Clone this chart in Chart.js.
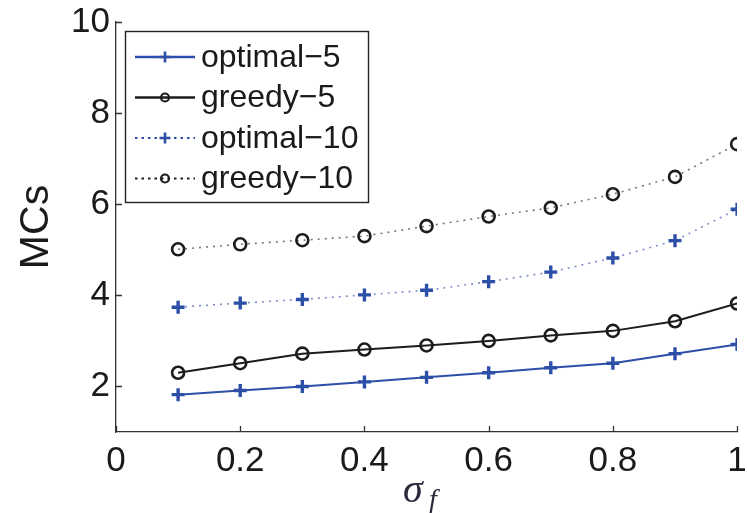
<!DOCTYPE html>
<html>
<head>
<meta charset="utf-8">
<script src="https://cdn.jsdelivr.net/npm/chart.js@4/dist/chart.umd.min.js"></script>
<style>
html,body{margin:0;padding:0;background:#fff;}
#wrap{width:747px;height:513px;position:relative;}
</style>
</head>
<body>
<div id="wrap"><canvas id="c" width="747" height="513"></canvas></div>
<script>
const xValues = [0.1, 0.2, 0.3, 0.4, 0.5, 0.6, 0.7, 0.8, 0.9, 1.0];
const optimal5 = [1.82, 1.91, 2.0, 2.1, 2.2, 2.3, 2.41, 2.51, 2.72, 2.92];
const greedy5 = [2.3, 2.51, 2.72, 2.81, 2.9, 3.0, 3.12, 3.22, 3.43, 3.82];
const optimal10 = [3.74, 3.83, 3.91, 4.01, 4.11, 4.3, 4.51, 4.82, 5.2, 5.89];
const greedy10 = [5.01, 5.12, 5.21, 5.3, 5.52, 5.73, 5.92, 6.22, 6.6, 7.32];
const seriesNames = ['optimal\u22125', 'greedy\u22125', 'optimal\u221210', 'greedy\u221210'];
const xTickValues = [0, 0.2, 0.4, 0.6, 0.8, 1];
const xTickLabels = ['0', '0.2', '0.4', '0.6', '0.8', '1'];
const yTickValues = [2, 4, 6, 8, 10];
const yTickLabels = ['2', '4', '6', '8', '10'];
const yTitle = 'MCs';

const BLUE = '#2d4fa8';
const BLACK = '#1c1c1c';
const SANS = '"Liberation Sans", Arial, Helvetica, sans-serif';
const SERIF = '"Liberation Serif", "DejaVu Serif", "Times New Roman", serif';

function pts(arr){ return xValues.map((x,i)=>({x:x, y:arr[i]})); }

function mkSet(label, data, lineColor, markColor, style, dash, bw){
  return {
    label: label,
    data: pts(data),
    borderColor: lineColor,
    borderWidth: bw,
    borderDash: dash,
    pointStyle: style,
    pointRadius: style === 'cross' ? 6.5 : 6,
    pointHoverRadius: style === 'cross' ? 6.5 : 6,
    pointBorderWidth: style === 'cross' ? 3.4 : 2.6,
    pointBorderColor: markColor,
    pointBackgroundColor: 'rgba(255,255,255,0)',
    legendColor: markColor,
    fill: false,
    tension: 0
  };
}

function drawMarker(ctx, style, x, y, r, color, lw){
  ctx.save();
  ctx.strokeStyle = color;
  ctx.lineWidth = lw;
  ctx.setLineDash([]);
  ctx.beginPath();
  if (style === 'cross'){
    ctx.moveTo(x - r, y); ctx.lineTo(x + r, y);
    ctx.moveTo(x, y - r); ctx.lineTo(x, y + r);
    ctx.stroke();
  } else {
    ctx.arc(x, y, r, 0, Math.PI*2);
    ctx.stroke();
  }
  ctx.restore();
}

const decorPlugin = {
  id: 'decor',
  afterDraw(chart){
    const ctx = chart.ctx;
    const xs = chart.scales.x, ys = chart.scales.y;
    const ca = chart.chartArea;
    ctx.save();
    // inward tick marks
    ctx.strokeStyle = '#333';
    ctx.lineWidth = 1.3;
    ctx.setLineDash([]);
    ctx.beginPath();
    yTickValues.forEach(v => {
      const py = Math.round(ys.getPixelForValue(v)) + 0.5;
      ctx.moveTo(ca.left, py); ctx.lineTo(ca.left + 6, py);
    });
    xTickValues.forEach(v => {
      const px = Math.round(xs.getPixelForValue(v)) + 0.5;
      ctx.moveTo(px, ca.bottom); ctx.lineTo(px, ca.bottom - 6);
    });
    ctx.stroke();

    // y title
    ctx.fillStyle = '#1a1a1a';
    ctx.font = '41px ' + SANS;
    ctx.textAlign = 'center';
    ctx.textBaseline = 'middle';
    ctx.save();
    ctx.translate(37, (ca.top + ca.bottom) / 2);
    ctx.rotate(-Math.PI / 2);
    ctx.fillText(yTitle, 0, 0);
    ctx.restore();

    // x title sigma_f
    ctx.fillStyle = '#2a2a3a';
    ctx.textAlign = 'left';
    ctx.textBaseline = 'alphabetic';
    ctx.font = 'italic 40px ' + SERIF;
    ctx.fillText('\u03c3', 403, 502);
    ctx.font = 'italic 28px ' + SERIF;
    ctx.fillText('f', 429, 508);

    // legend
    const bx = 125.5, by = 31.5, bw = 243, bh = 171;
    ctx.fillStyle = '#fff';
    ctx.fillRect(bx, by, bw, bh);
    ctx.strokeStyle = '#222';
    ctx.lineWidth = 1.4;
    ctx.strokeRect(bx, by, bw, bh);
    chart.data.datasets.forEach((ds, i) => {
      const ry = 57 + i * 40.5;
      ctx.save();
      ctx.strokeStyle = ds.borderDash.length ? ds.legendColor : ds.borderColor;
      ctx.lineWidth = ds.borderDash.length ? 2.2 : ds.borderWidth + 0.6;
      ctx.setLineDash(ds.borderDash.length ? [2.5, 4] : []);
      ctx.beginPath();
      ctx.moveTo(135, ry); ctx.lineTo(195, ry);
      ctx.stroke();
      ctx.restore();
      drawMarker(ctx, ds.pointStyle, 165, ry, ds.pointStyle === 'cross' ? 5.5 : 4, ds.legendColor, ds.pointStyle === 'cross' ? 2.6 : 2.2);
      ctx.fillStyle = '#1a1a1a';
      ctx.font = '32px ' + SANS;
      ctx.textAlign = 'left';
      ctx.textBaseline = 'middle';
      ctx.fillText(ds.label, 201, ry + 1);
    });
    ctx.restore();
  }
};

const hiddenGrid = (len) => ({ display: true, drawOnChartArea: false, drawTicks: true, tickLength: len, color: 'rgba(0,0,0,0)', tickColor: 'rgba(0,0,0,0)' });

const chart = new Chart(document.getElementById('c'), {
  type: 'line',
  data: {
    datasets: [
      mkSet(seriesNames[0], optimal5, BLUE, BLUE, 'cross', [], 2),
      mkSet(seriesNames[1], greedy5, BLACK, BLACK, 'circle', [], 2),
      mkSet(seriesNames[2], optimal10, '#7d90c8', BLUE, 'cross', [2, 5], 1.6),
      mkSet(seriesNames[3], greedy10, '#777777', BLACK, 'circle', [2, 5], 1.6)
    ]
  },
  options: {
    responsive: false,
    animation: false,
    devicePixelRatio: 1,
    layout: { padding: { left: 0, top: 22, right: 9, bottom: 0 } },
    plugins: { legend: { display: false }, tooltip: { enabled: false }, title: { display: false } },
    scales: {
      x: {
        type: 'linear',
        min: 0, max: 1,
        afterBuildTicks: (axis) => { axis.ticks = xTickValues.map(v => ({ value: v })); },
        afterFit: (axis) => { axis.height = 81; },
        grid: hiddenGrid(8),
        border: { display: true, color: '#333', width: 1.3 },
        ticks: {
          padding: 0,
          color: '#1a1a1a',
          font: { family: SANS, size: 35 },
          maxRotation: 0,
          autoSkip: false,
          callback: (v, i) => xTickLabels[i]
        }
      },
      y: {
        type: 'linear',
        min: 1, max: 10,
        afterBuildTicks: (axis) => { axis.ticks = yTickValues.map(v => ({ value: v })); },
        afterFit: (axis) => { axis.width = 116; },
        grid: hiddenGrid(6),
        border: { display: true, color: '#333', width: 1.3 },
        ticks: {
          padding: 0,
          color: '#1a1a1a',
          font: { family: SANS, size: 35 },
          autoSkip: false,
          callback: (v, i) => yTickLabels[i]
        }
      }
    }
  },
  plugins: [decorPlugin]
});
</script>
</body>
</html>
